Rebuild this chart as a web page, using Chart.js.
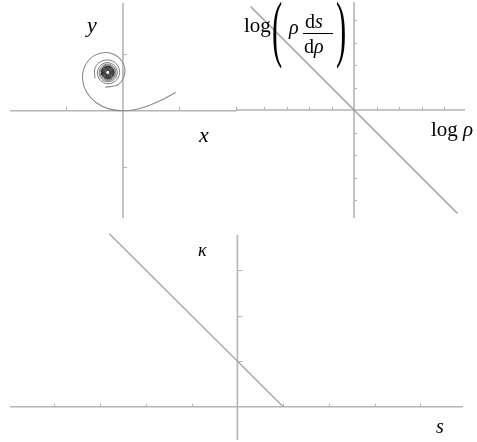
<!DOCTYPE html>
<html>
<head>
<meta charset="utf-8">
<script src="https://cdn.jsdelivr.net/npm/chart.js@4/dist/chart.umd.min.js"></script>
<style>
  html, body { margin: 0; padding: 0; background: #fff; }
  #wrap { position: relative; width: 477px; height: 442px; background: #fff; overflow: hidden; }
  canvas { position: absolute; }
  .t { position: absolute; font-family: "Liberation Serif", "DejaVu Serif", serif; color: #000; line-height: 1; white-space: nowrap; }
  .i { font-style: italic; }
  .bar { position: absolute; height: 1px; background: #000; }
</style>
</head>
<body>
<div id="wrap">
  <canvas id="curve" width="227" height="215" style="left:10px;top:3px"></canvas>
  <canvas id="loglog" width="228" height="216" style="left:237px;top:2px"></canvas>
  <canvas id="curvature" width="453" height="209" style="left:10px;top:231px"></canvas>

  <div class="t i" style="left:87px;top:13.6px;font-size:22px">y</div>
  <div class="t i" style="left:199px;top:123.6px;font-size:22px">x</div>

  <div class="t" style="left:244px;top:15.4px;font-size:21px">log</div>
  <div class="t" style="left:272px;top:-7.7px;font-size:73px;transform:scale(0.42,1);transform-origin:0 0">(</div>
  <div class="t i" style="left:289px;top:17px;font-size:20px">ρ</div>
  <div class="t" style="left:305px;top:10.5px;font-size:20px">d<span class="i">s</span></div>
  <div class="bar" style="left:303px;top:33px;width:30px"></div>
  <div class="t" style="left:304px;top:35.5px;font-size:20px">d<span class="i">ρ</span></div>
  <div class="t" style="left:336px;top:-7.7px;font-size:73px;transform:scale(0.42,1);transform-origin:0 0">)</div>
  <div class="t" style="left:431px;top:119.4px;font-size:21px">log <span class="i">ρ</span></div>

  <div class="t i" style="left:198px;top:241px;font-size:18px">κ</div>
  <div class="t i" style="left:436px;top:416.3px;font-size:20px">s</div>
</div>
<script>
// Clothoid drawn in the x–y plane: outer arc (s from 1 back to about -2.75)
const outerX = [0.9344, 0.7138, 0.4863, 0.2479, 0, -0.2469, -0.4711, -0.6400, -0.7155, -0.6689,
                -0.5006, -0.2596, -0.0441, 0.0342, -0.0792, -0.3155];
const outerY = [0.3239, 0.2063, 0.1028, 0.0285, 0, 0.0336, 0.1414, 0.3234, 0.5593, 0.8020,
                0.9819, 1.0292, 0.9133, 0.6825, 0.4679, 0.4174];

// the next four windings around the limit point
const windX = [-0.4971, -0.4904, -0.3584, -0.1856, -0.0726, -0.0785, -0.1920, -0.3421,
               -0.4412, -0.4360, -0.3349, -0.2001, -0.1108, -0.1156, -0.2078, -0.3309,
               -0.4129, -0.4084, -0.3233, -0.2090, -0.1329, -0.1370, -0.2167, -0.3236,
               -0.3951, -0.3911, -0.3162, -0.2152, -0.1476, -0.1513, -0.2225, -0.3184, -0.3825];
const windY = [0.5757, 0.7646, 0.8873, 0.8809, 0.7593, 0.5990, 0.4937, 0.4992,
               0.6061, 0.7478, 0.8417, 0.8366, 0.7403, 0.6117, 0.5264, 0.5309,
               0.6194, 0.7378, 0.8168, 0.8124, 0.7302, 0.6187, 0.5461, 0.5501,
               0.6273, 0.7311, 0.8006, 0.7967, 0.7237, 0.6245, 0.5596, 0.5633, 0.6327];

// dense core of the spiral
const coreX = [-0.3832, -0.3610, -0.2479, -0.1583, -0.1794, -0.2871,
               -0.3723, -0.3521, -0.2499, -0.1691, -0.1884, -0.2851,
               -0.3614, -0.3432, -0.2518, -0.1800, -0.1973, -0.2832,
               -0.3505, -0.3342, -0.2538, -0.1909, -0.2062, -0.2812,
               -0.3397, -0.3253, -0.2558, -0.2018, -0.2151, -0.2793,
               -0.3288, -0.3164, -0.2577, -0.2127, -0.2241, -0.2773,
               -0.3179, -0.3075, -0.2597, -0.2235, -0.2330, -0.2753,
               -0.3070, -0.2985, -0.2616, -0.2344, -0.2419, -0.2734, -0.2961];
const coreY = [0.6344, 0.7542, 0.7942, 0.7176, 0.6035, 0.5655,
               0.6385, 0.7468, 0.7828, 0.7135, 0.6109, 0.5770,
               0.6425, 0.7394, 0.7713, 0.7095, 0.6183, 0.5884,
               0.6465, 0.7320, 0.7599, 0.7055, 0.6257, 0.5998,
               0.6505, 0.7246, 0.7485, 0.7015, 0.6331, 0.6113,
               0.6545, 0.7172, 0.7370, 0.6974, 0.6405, 0.6227,
               0.6586, 0.7098, 0.7256, 0.6934, 0.6479, 0.6341,
               0.6626, 0.7024, 0.7142, 0.6894, 0.6553, 0.6456, 0.6666];

// log ρ against log(ρ ds/dρ)
const logRho = [-4.6, 4.6];
const logRhoDsDrho = [4.6, -4.6];

// curvature κ against arc length s
const arcS = [-2.8, 1];
const kappa = [3.8, 0];

// tick positions on each pair of axes
const curveTicksX = [-1, 1, 2];
const curveTicksY = [-1, 1];
const logTicksX = [-4, -3, -2, -1, 1, 2, 3, 4];
const logTicksY = [-4, -3, -2, -1, 1, 2, 3, 4];
const kappaTicksX = [-4, -3, -2, -1, 1, 2, 3, 4];
const kappaTicksY = [1, 2, 3];

const pts = (xs, ys) => xs.map((v, i) => ({ x: v, y: ys[i] }));

// Axes crossing at the origin, with small tick marks
const crossAxes = {
  id: 'crossAxes',
  beforeDatasetsDraw(chart, args, o) {
    const { ctx, chartArea: a, scales: { x, y } } = chart;
    const x0 = x.getPixelForValue(0), y0 = y.getPixelForValue(0);
    ctx.save();
    ctx.strokeStyle = o.color;
    ctx.lineWidth = o.width;
    ctx.beginPath();
    ctx.moveTo(a.left, y0); ctx.lineTo(a.right, y0);
    ctx.moveTo(x0, a.top); ctx.lineTo(x0, a.bottom);
    ctx.stroke();
    ctx.lineWidth = 1;
    ctx.beginPath();
    for (const t of o.xTicks) {
      const px = Math.round(x.getPixelForValue(t)) + 0.5;
      ctx.moveTo(px, y0); ctx.lineTo(px, y0 - o.xLen);
    }
    for (const t of o.yTicks) {
      const py = Math.round(y.getPixelForValue(t)) + 0.5;
      ctx.moveTo(x0, py); ctx.lineTo(x0 + o.yLen, py);
    }
    ctx.stroke();
    ctx.restore();
  }
};

function makeChart(id, datasets, xr, yr, ticks, pad) {
  return new Chart(document.getElementById(id), {
    type: 'scatter',
    data: { datasets },
    options: {
      responsive: false,
      animation: false,
      devicePixelRatio: 1,
      layout: { padding: pad || 0 },
      scales: {
        x: { type: 'linear', display: false, min: xr[0], max: xr[1] },
        y: { type: 'linear', display: false, min: yr[0], max: yr[1] }
      },
      plugins: {
        legend: { display: false },
        tooltip: { enabled: false },
        crossAxes: Object.assign({ color: '#b4b4b4', width: 1.6 }, ticks)
      }
    },
    plugins: [crossAxes]
  });
}

const lineStyle = (color, width, tension) => ({
  showLine: true, pointRadius: 0, borderColor: color, borderWidth: width,
  tension: tension || 0, fill: false
});

makeChart('curve', [
  Object.assign({ data: pts(outerX, outerY) }, lineStyle('#8a8a8a', 1.1, 0.4)),
  Object.assign({ data: pts(windX, windY) }, lineStyle('#7a7a7a', 1.0, 0.4)),
  Object.assign({ data: pts(coreX, coreY) }, lineStyle('#2a2a2a', 1.0, 0.4))
], [-2, 2.02], [-1.9, 1.91],
   { xTicks: curveTicksX, yTicks: curveTicksY, xLen: 4, yLen: 4 });

makeChart('loglog', [
  Object.assign({ data: pts(logRho, logRhoDsDrho) }, lineStyle('#a0a0a0', 1.5))
], [-5.2, 4.93], [-4.8, 4.8],
   { xTicks: logTicksX, yTicks: logTicksY, xLen: 3, yLen: 3 });

makeChart('curvature', [
  Object.assign({ data: pts(arcS, kappa), clip: false }, lineStyle('#a8a8a8', 1.4))
], [-4.97, 4.93], [-0.73, 3.77],
   { xTicks: kappaTicksX, yTicks: kappaTicksY, xLen: 3, yLen: 5 },
   { top: 4 });
</script>
</body>
</html>
